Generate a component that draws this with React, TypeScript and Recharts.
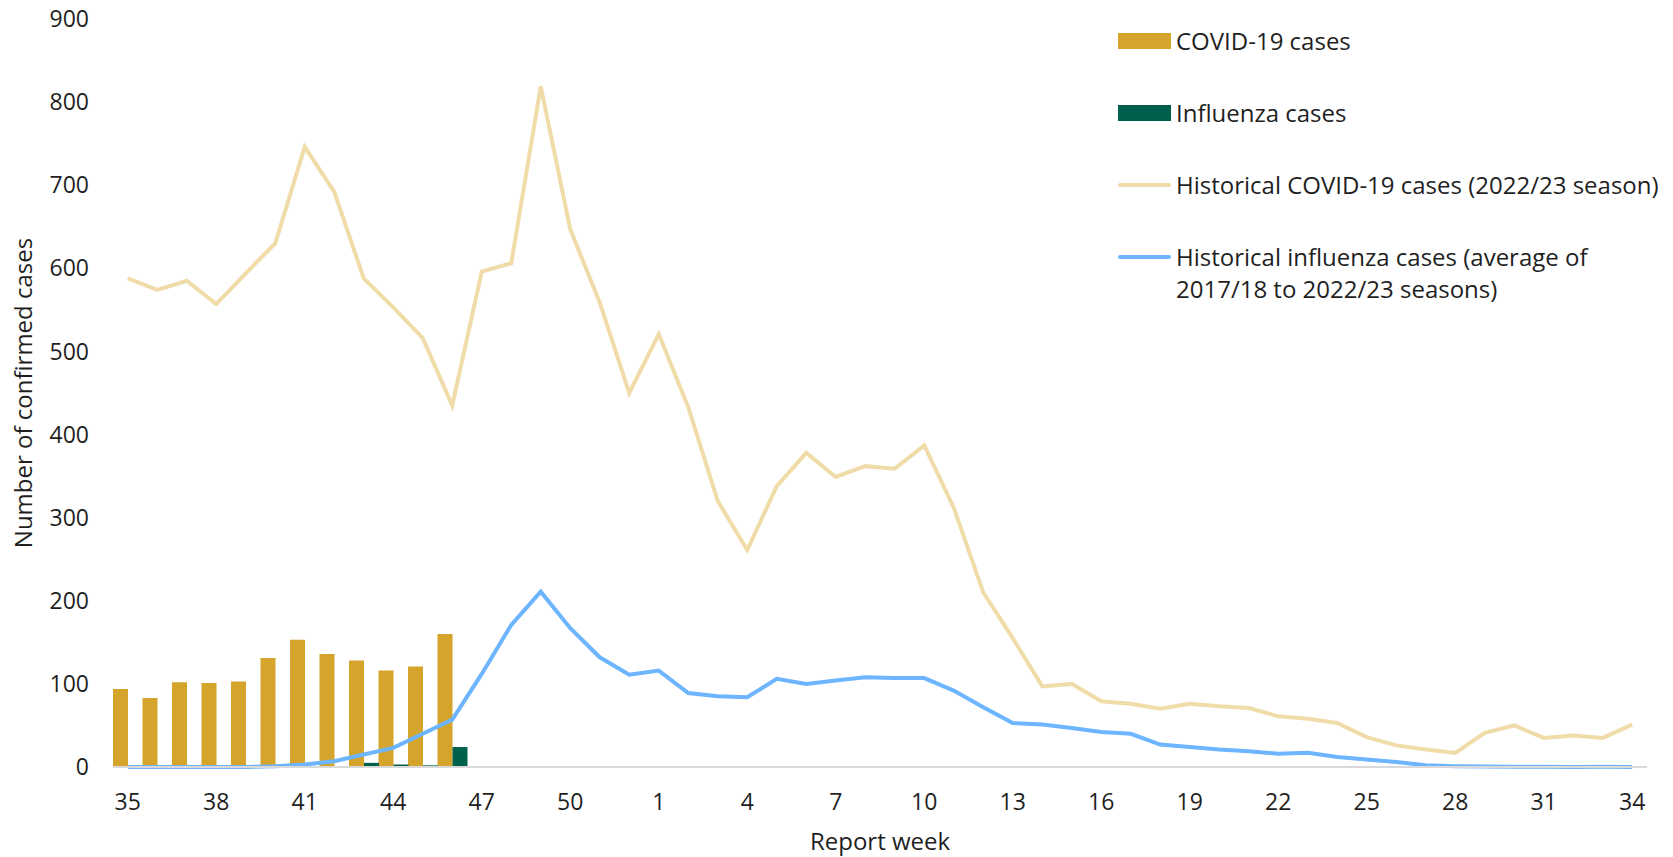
import { ComposedChart, Bar, Line, XAxis, YAxis } from 'recharts';

// report weeks 35..52 then 1..34
const weeks = [
  '35', '36', '37', '38', '39', '40', '41', '42', '43', '44', '45', '46', '47', '48', '49', '50', '51', '52',
  '1', '2', '3', '4', '5', '6', '7', '8', '9', '10', '11', '12', '13', '14', '15', '16', '17',
  '18', '19', '20', '21', '22', '23', '24', '25', '26', '27', '28', '29', '30', '31', '32', '33', '34',
];

// current season (only weeks 35-46 reported so far)
const covidCases = [94, 83, 102, 101, 103, 131, 153, 136, 128, 116, 121, 160];
const fluCases = [0, 0, 0, 0, 0, 0, 1, 1, 5, 3, 2, 24];

const histCovid = [
  588, 574, 585, 557, 594, 630, 746, 692, 588, 553, 516, 435, 596, 606, 819, 647, 559, 450,
  521, 433, 320, 261, 338, 378, 349, 362, 359, 387, 312, 210, 155, 97, 100, 79, 76,
  70, 76, 73, 71, 61, 58, 53, 36, 26, 21, 17, 41, 50, 35, 38, 35, 51,
];

const histFlu = [
  0, 0, 0, 0, 0, 1, 3, 7, 15, 23, 40, 57, 112, 171, 211, 167, 132, 111,
  116, 89, 85, 84, 106, 100, 104, 108, 107, 107, 92, 72, 53, 51, 47, 42, 40,
  27, 24, 21, 19, 16, 17, 12, 9, 6, 2, 1, 0.5, 0.3, 0.3, 0, 0.3, 0,
];

const yTicks = [0, 100, 200, 300, 400, 500, 600, 700, 800, 900];

const COLORS = {
  covid: '#D4A42B',
  flu: '#00604E',
  histCovid: '#EFDCA8',
  histFlu: '#6DB5FF',
  text: '#1f1f1f',
  axis: '#d9d9d9',
};

const legendItems = [
  { label: 'COVID-19 cases', color: COLORS.covid, kind: 'bar' },
  { label: 'Influenza cases', color: COLORS.flu, kind: 'bar' },
  { label: 'Historical COVID-19 cases (2022/23 season)', color: COLORS.histCovid, kind: 'line' },
  { label: 'Historical influenza cases (average of\n2017/18 to 2022/23 seasons)', color: COLORS.histFlu, kind: 'line' },
];

const data = weeks.map((week, i) => ({
  week,
  covid: i < covidCases.length ? covidCases[i] : null,
  flu: i < fluCases.length ? fluCases[i] : null,
  histCovid: histCovid[i],
  histFlu: histFlu[i],
}));

const FONT = '"Open Sans", "Noto Sans", sans-serif';
const TITLE_SIZE = 24;
const TICK_SIZE = 23;

const ChartLegend = () => (
  <div style={{ position: 'absolute', left: 1118, top: 25, fontFamily: FONT, fontSize: TITLE_SIZE, color: COLORS.text }}>
    {legendItems.map((item) => (
      <div key={item.label} style={{ display: 'flex', alignItems: 'flex-start', height: 72 }}>
        <div style={{ width: 53, height: 32, display: 'flex', alignItems: 'center', flexShrink: 0 }}>
          <div
            style={{
              width: 53,
              height: item.kind === 'bar' ? 16 : 4,
              borderRadius: item.kind === 'bar' ? 0 : 2,
              background: item.color,
            }}
          />
        </div>
        <div style={{ marginLeft: 5, lineHeight: '32px', whiteSpace: 'pre-line' }}>{item.label}</div>
      </div>
    ))}
  </div>
);

const App = () => {
  return (
    <div style={{ position: 'absolute', left: 0, top: 0, width: 1673, height: 857, background: '#fff' }}>
      <ComposedChart
        width={1673}
        height={857}
        data={data}
        margin={{ top: 19, right: 26, left: 0, bottom: 0 }}
        barGap={0}
        barCategoryGap={0}
      >
        <XAxis
          dataKey="week"
          interval={2}
          height={90}
          tickLine={false}
          tickSize={0}
          tickMargin={27}
          axisLine={{ stroke: COLORS.axis, strokeWidth: 2 }}
          tick={{ fontSize: TICK_SIZE, fill: COLORS.text, fontFamily: FONT }}
          label={{ value: 'Report week', position: 'insideBottom', offset: 7, fontSize: TITLE_SIZE, fill: COLORS.text, fontFamily: FONT }}
        />
        <YAxis
          width={113}
          domain={[0, 900]}
          ticks={yTicks}
          axisLine={false}
          tickLine={false}
          tickSize={0}
          tickMargin={24}
          tick={{ fontSize: TICK_SIZE, fill: COLORS.text, fontFamily: FONT }}
          label={{
            value: 'Number of confirmed cases',
            angle: -90,
            position: 'insideLeft',
            offset: 23,
            style: { textAnchor: 'middle' },
            fontSize: TITLE_SIZE,
            fill: COLORS.text,
            fontFamily: FONT,
          }}
        />
        <Bar dataKey="covid" name="COVID-19 cases" fill={COLORS.covid} isAnimationActive={false} />
        <Bar dataKey="flu" name="Influenza cases" fill={COLORS.flu} isAnimationActive={false} />
        <Line
          type="linear"
          dataKey="histCovid"
          name="Historical COVID-19 cases (2022/23 season)"
          stroke={COLORS.histCovid}
          strokeWidth={4}
          dot={false}
          isAnimationActive={false}
        />
        <Line
          type="linear"
          dataKey="histFlu"
          name="Historical influenza cases (average of 2017/18 to 2022/23 seasons)"
          stroke={COLORS.histFlu}
          strokeWidth={4}
          dot={false}
          isAnimationActive={false}
        />
      </ComposedChart>
      <ChartLegend />
    </div>
  );
};

export default App;
